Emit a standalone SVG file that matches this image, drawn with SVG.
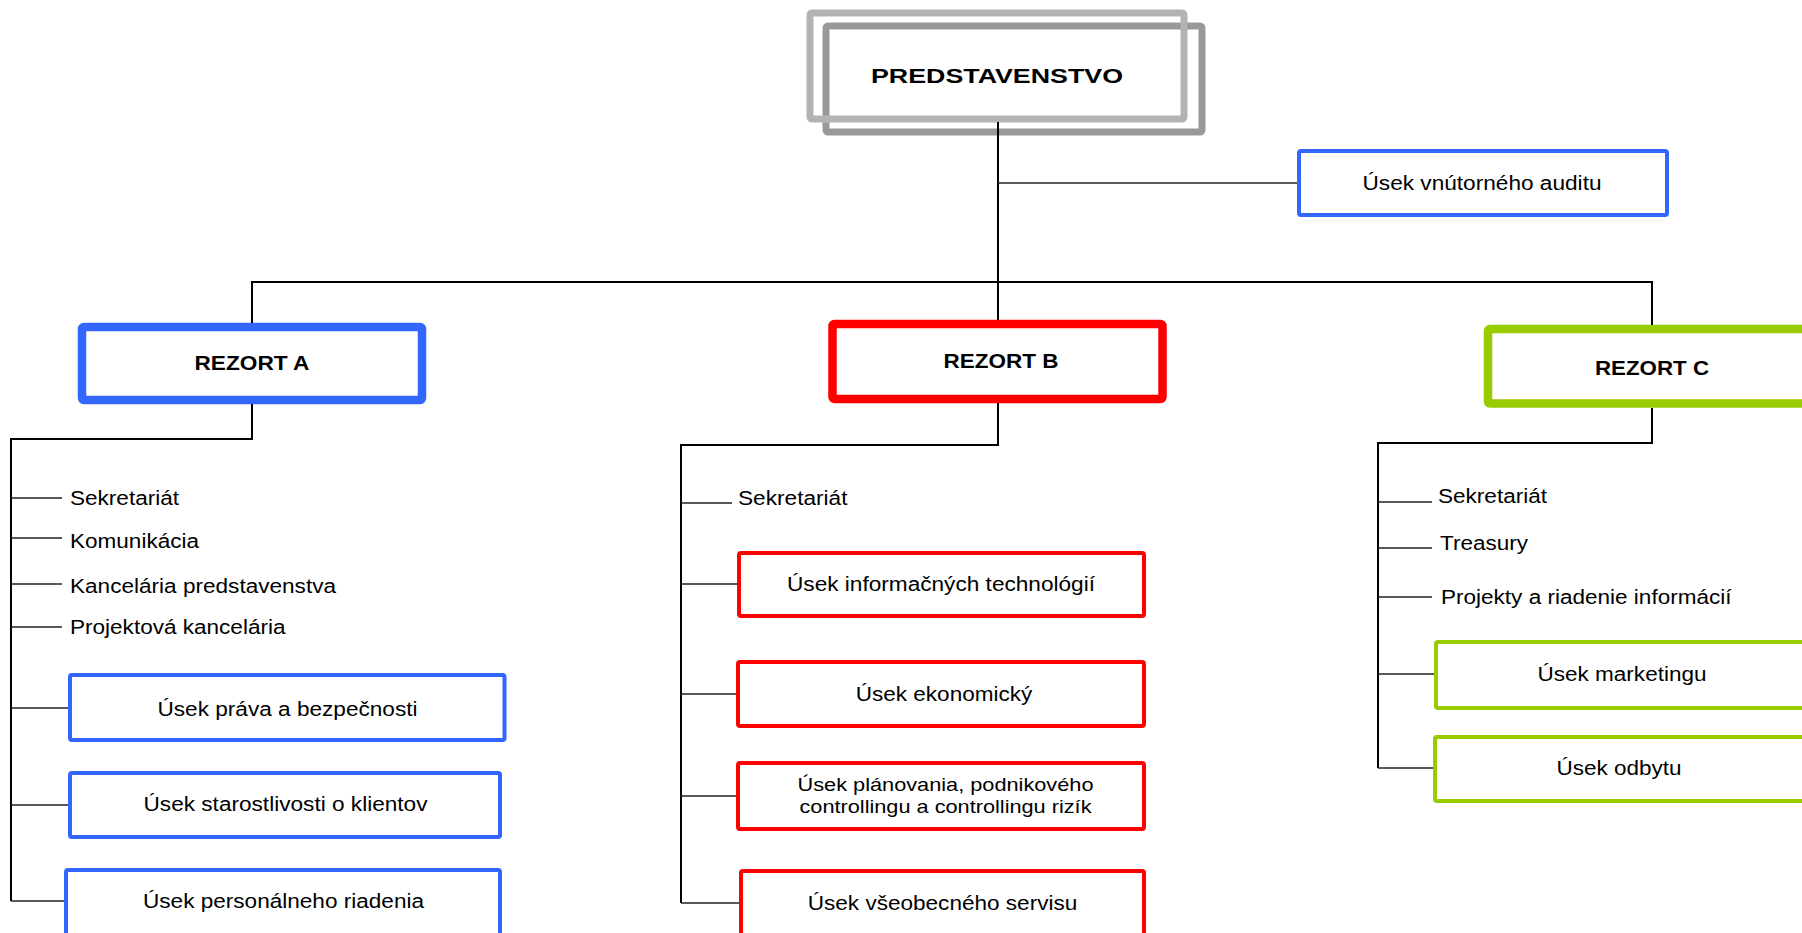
<svg xmlns="http://www.w3.org/2000/svg" width="1802" height="933" viewBox="0 0 1802 933">
<style>
text{font-family:"Liberation Sans",Arial,sans-serif;fill:#000;}
.b{font-weight:bold;font-size:20px;text-anchor:middle;}
.t{font-size:19.5px;}
.c{font-size:19.5px;text-anchor:middle;}
.s{font-size:18.5px;text-anchor:middle;}
.blue{fill:#fff;stroke:#3366ff;stroke-width:4;}
.red{fill:#fff;stroke:#ff0000;stroke-width:4;}
.green{fill:#fff;stroke:#99cc00;stroke-width:4;}
.thick{stroke-width:8.5;}
.main{fill:none;stroke:#000;stroke-width:2;}
.br{fill:none;stroke:#222;stroke-width:1.3;}
</style>
<g id="predstavenstvo">
<rect x="826" y="26" width="376" height="106" rx="2" fill="#fff" stroke="#999999" stroke-width="7"/>
<rect x="810" y="13" width="374" height="106" rx="2" fill="none" stroke="#b3b3b3" stroke-width="7"/>
<text class="b" x="997" y="82.5" textLength="252" lengthAdjust="spacingAndGlyphs" style="font-size:21px">PREDSTAVENSTVO</text>
</g>
<g id="audit">
<rect class="blue" x="1299" y="151" width="368" height="64" rx="2"/>
<text class="c" x="1482" y="189.5" textLength="239" lengthAdjust="spacingAndGlyphs">Úsek vnútorného auditu</text>
</g>
<g id="rezort-a">
<rect class="blue thick" x="82" y="327" width="340" height="73" rx="2"/>
<text class="b" x="252" y="370" textLength="115" lengthAdjust="spacingAndGlyphs">REZORT A</text>
</g>
<g id="rezort-b">
<rect class="red thick" x="832.5" y="324" width="330" height="75" rx="2"/>
<text class="b" x="1001" y="368" textLength="115" lengthAdjust="spacingAndGlyphs">REZORT B</text>
</g>
<g id="rezort-c">
<rect class="green thick" x="1488" y="329" width="340" height="74.5" rx="2"/>
<text class="b" x="1652" y="375" textLength="114" lengthAdjust="spacingAndGlyphs">REZORT C</text>
</g>
<g id="a-sekretariat"><text class="t" x="70" y="505" textLength="109" lengthAdjust="spacingAndGlyphs">Sekretariát</text></g>
<g id="a-komunikacia"><text class="t" x="70" y="547.5" textLength="129" lengthAdjust="spacingAndGlyphs">Komunikácia</text></g>
<g id="a-kancelaria"><text class="t" x="70" y="592.5" textLength="266" lengthAdjust="spacingAndGlyphs">Kancelária predstavenstva</text></g>
<g id="a-projektova"><text class="t" x="70" y="633.5" textLength="215.5" lengthAdjust="spacingAndGlyphs">Projektová kancelária</text></g>
<g id="a-prava">
<rect class="blue" x="70" y="675" width="434.5" height="65" rx="2"/>
<text class="c" x="287.5" y="716" textLength="260" lengthAdjust="spacingAndGlyphs">Úsek práva a bezpečnosti</text>
</g>
<g id="a-klienti">
<rect class="blue" x="70" y="773" width="430" height="64" rx="2"/>
<text class="c" x="285.5" y="811" textLength="284" lengthAdjust="spacingAndGlyphs">Úsek starostlivosti o klientov</text>
</g>
<g id="a-personalne">
<rect class="blue" x="66" y="870" width="434" height="80" rx="2"/>
<text class="c" x="283.5" y="908" textLength="281" lengthAdjust="spacingAndGlyphs">Úsek personálneho riadenia</text>
</g>
<g id="b-sekretariat"><text class="t" x="738" y="505" textLength="109.5" lengthAdjust="spacingAndGlyphs">Sekretariát</text></g>
<g id="b-it">
<rect class="red" x="739" y="553" width="405" height="63" rx="2"/>
<text class="c" x="941" y="591" textLength="308" lengthAdjust="spacingAndGlyphs">Úsek informačných technológií</text>
</g>
<g id="b-ekonomicky">
<rect class="red" x="738" y="662" width="406" height="64" rx="2"/>
<text class="c" x="944" y="700.5" textLength="176.5" lengthAdjust="spacingAndGlyphs">Úsek ekonomický</text>
</g>
<g id="b-planovanie">
<rect class="red" x="738" y="763" width="406" height="66" rx="2"/>
<text class="s" x="945.5" y="791" textLength="296" lengthAdjust="spacingAndGlyphs">Úsek plánovania, podnikového</text>
<text class="s" x="945.5" y="812.5" textLength="292" lengthAdjust="spacingAndGlyphs">controllingu a controllingu rizík</text>
</g>
<g id="b-servis">
<rect class="red" x="741" y="871" width="403" height="80" rx="2"/>
<text class="c" x="942.5" y="910" textLength="269.5" lengthAdjust="spacingAndGlyphs">Úsek všeobecného servisu</text>
</g>
<g id="c-sekretariat"><text class="t" x="1438" y="502.5" textLength="109" lengthAdjust="spacingAndGlyphs">Sekretariát</text></g>
<g id="c-treasury"><text class="t" x="1440" y="549.5" textLength="88" lengthAdjust="spacingAndGlyphs">Treasury</text></g>
<g id="c-projekty"><text class="t" x="1441" y="604" textLength="290.5" lengthAdjust="spacingAndGlyphs">Projekty a riadenie informácií</text></g>
<g id="c-marketing">
<rect class="green" x="1436" y="642" width="372" height="66" rx="2"/>
<text class="c" x="1622" y="680.5" textLength="169" lengthAdjust="spacingAndGlyphs">Úsek marketingu</text>
</g>
<g id="c-odbyt">
<rect class="green" x="1435" y="737" width="373" height="64" rx="2"/>
<text class="c" x="1619" y="775" textLength="125" lengthAdjust="spacingAndGlyphs">Úsek odbytu</text>
</g>
<g id="connectors">
<path class="main" d="M998 122V320"/>
<path class="br" d="M998 183H1297"/>
<path class="main" d="M252 323V282H1652V325"/>
<path class="main" d="M252 404V439H11V901"/>
<path class="br" d="M11 498H62M11 538H62M11 584H62M11 627H62M11 708H68M11 805H68M11 901H64"/>
<path class="main" d="M998 403V445H681V903"/>
<path class="br" d="M681 503H732M681 584H737M681 694H736M681 796H736M681 903H739"/>
<path class="main" d="M1652 408V443H1378V768"/>
<path class="br" d="M1378 502H1432M1378 548H1432M1378 597H1432M1378 674H1434M1378 768H1433"/>
</g>
</svg>
